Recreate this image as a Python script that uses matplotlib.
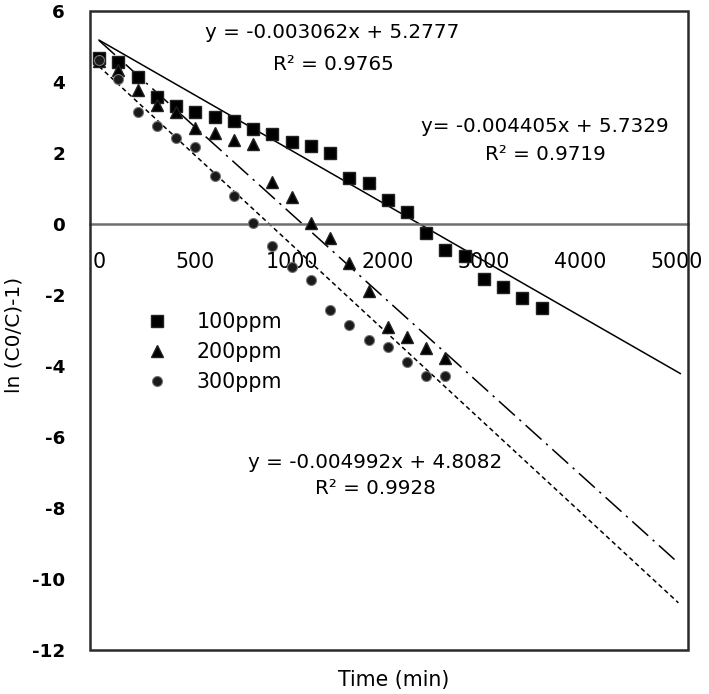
import matplotlib
matplotlib.use("Agg")
import matplotlib.pyplot as plt
from matplotlib.patches import Rectangle

plt.rcParams["font.family"] = ["DejaVu Sans"]

# --- data ---
t_100 = [0, 100, 200, 300, 400, 500, 600, 700, 800, 900, 1000, 1100,
         1200, 1300, 1400, 1500, 1600, 1700, 1800, 1900, 2000, 2100, 2200, 2300]
y_100 = [4.68, 4.56, 4.14, 3.58, 3.32, 3.16, 3.02, 2.90, 2.67, 2.54, 2.31, 2.20,
         1.99, 1.29, 1.15, 0.68, 0.34, -0.26, -0.73, -0.90, -1.55, -1.77, -2.08, -2.37]

t_200 = [0, 100, 200, 300, 400, 500, 600, 700, 800, 900, 1000, 1100,
         1200, 1300, 1400, 1500, 1600, 1700, 1800]
y_200 = [4.60, 4.35, 3.77, 3.35, 3.16, 2.70, 2.56, 2.37, 2.25, 1.18, 0.76, 0.03,
         -0.39, -1.10, -1.90, -2.90, -3.18, -3.49, -3.77]

t_300 = [0, 100, 200, 300, 400, 500, 600, 700, 800, 900, 1000, 1100,
         1200, 1300, 1400, 1500, 1600, 1700, 1800]
y_300 = [4.62, 4.08, 3.15, 2.76, 2.42, 2.17, 1.35, 0.79, 0.03, -0.62, -1.21, -1.58,
         -2.42, -2.85, -3.27, -3.46, -3.89, -4.28, -4.28]

series_labels = ["100ppm", "200ppm", "300ppm"]

# trend lines as drawn (slope, intercept, last x)
fit_slope = [-0.00311, -0.00489, -0.00502]
fit_icpt = [5.18, 5.17, 4.44]
fit_xend = [3020, 2990, 3010]

eq_text = ["y = -0.003062x + 5.2777", "y= -0.004405x + 5.7329", "y = -0.004992x + 4.8082"]
r2_text = ["R\u00b2 = 0.9765", "R\u00b2 = 0.9719", "R\u00b2 = 0.9928"]

xtick_pos = [0, 500, 1000, 1500, 2000, 2500, 3000]
xtick_lab = ["0", "500", "1000", "2000", "3000", "4000", "5000"]
ytick_pos = [6, 4, 2, 0, -2, -4, -6, -8, -10, -12]

W, H = 709, 694
fig = plt.figure(figsize=(W / 100, H / 100), dpi=100)
L, R, T, B = 90, 688, 11, 650
ax = fig.add_axes([L / W, 1 - B / H, (R - L) / W, (B - T) / H])


def axfrac(px, py):
    return (px - L) / (R - L), (B - py) / (B - T)


ax.set_xlim(-47, 3060)
ax.set_ylim(-12, 6)

# trend lines
styles = ["-", (0, (14, 4, 1.5, 4)), (0, (3, 2.2))]
for k in range(3):
    xs = [0, fit_xend[k]]
    ys = [fit_icpt[k], fit_icpt[k] + fit_slope[k] * fit_xend[k]]
    ax.plot(xs, ys, color="black", lw=1.1, linestyle=styles[k], zorder=2)

ax.plot(t_100, y_100, linestyle="none", marker="s", ms=8.6, color="black",
        mec="#222222", zorder=3, label=series_labels[0])
ax.plot(t_200, y_200, linestyle="none", marker="^", ms=9.0, color="black",
        mec="#222222", zorder=3, label=series_labels[1])
ax.plot(t_300, y_300, linestyle="none", marker="o", ms=7.2, color="#1a1a1a",
        mec="#777777", mew=0.8, zorder=4, label=series_labels[2])

# frame + zero axis
for s in ax.spines.values():
    s.set_visible(False)
ax.spines["bottom"].set_visible(True)
ax.spines["bottom"].set_position(("data", 0))
ax.spines["bottom"].set_color("#6e6e6e")
ax.spines["bottom"].set_linewidth(1.8)
ax.add_patch(Rectangle((0, 0), 1, 1, transform=ax.transAxes, fill=False,
                       edgecolor="#2a2a2a", lw=1.8, clip_on=False, zorder=5))

ax.set_xticks(xtick_pos)
ax.set_xticklabels(xtick_lab, fontsize=14.8)
ax.tick_params(axis="x", length=0, pad=20)
ax.set_yticks(ytick_pos)
ax.set_yticklabels([str(v) for v in ytick_pos], fontsize=13.2, fontweight="bold")
ax.tick_params(axis="y", length=0, pad=18)

fig.text(14 / W, 1 - 335 / H, "ln (C0/C)-1)", rotation=90, fontsize=14.5,
         ha="center", va="center")
fig.text(394 / W, 1 - 680 / H, "Time (min)", fontsize=14.8, ha="center", va="center")

eq_pos = [(332, 33), (545, 127), (375, 463)]
r2_pos = [(333, 64), (545, 155), (375, 489)]
for k in range(3):
    ax.text(*axfrac(*eq_pos[k]), eq_text[k], transform=ax.transAxes,
            fontsize=14.3, ha="center", va="center")
    ax.text(*axfrac(*r2_pos[k]), r2_text[k], transform=ax.transAxes,
            fontsize=14.3, ha="center", va="center")

leg = ax.legend(loc="upper left", bbox_to_anchor=axfrac(147, 312), frameon=False,
                fontsize=14.8, handlelength=1.0, handletextpad=1.4,
                labelspacing=0.48, borderpad=0, borderaxespad=0)

fig.savefig("out.png", dpi=100)
